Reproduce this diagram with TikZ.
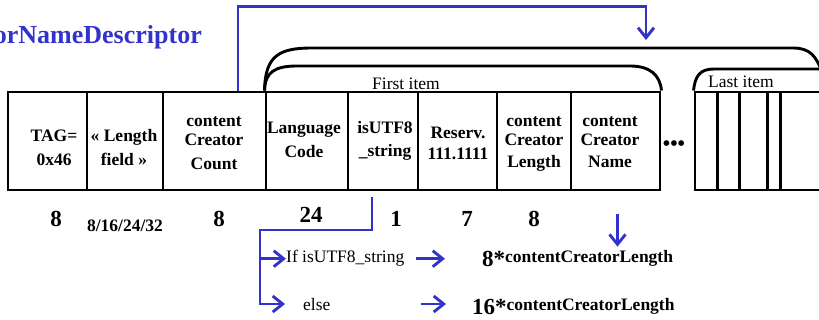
\documentclass[tikz,border=0pt]{standalone}
\usepackage{fontspec}
\setmainfont{Liberation Serif}
\usetikzlibrary{arrows.meta,calc}
\definecolor{blu}{RGB}{51,51,204}
\newcommand\mlines[1]{\begin{tabular}[t]{@{}c@{}}#1\end{tabular}}
\begin{document}
\begin{tikzpicture}[x=1pt,y=-1pt,
  cellbox/.style={draw,line width=2.9pt,minimum height=98pt,inner sep=0pt},
  celltext/.style={anchor=base,inner sep=0pt,font=\fontsize{17.5}{19}\selectfont\bfseries},
  bnum/.style={anchor=base,inner sep=0pt,font=\fontsize{23}{25}\selectfont\bfseries},
  plain/.style={inner sep=0pt,font=\fontsize{17.5}{19}\selectfont},
  bline/.style={line width=2.9pt},
  bluline/.style={draw=blu,line width=2.9pt},
  barrow/.style={bluline,-{Straight Barb[length=10pt,width=16pt]}},
  ]
\useasboundingbox (0,0) rectangle (819,320);
\clip (0,0) rectangle (819,320);

% title
\node[anchor=base east,inner sep=0pt,text=blu,font=\fontsize{26}{30}\selectfont\bfseries] (title) at (202,44) {orNameDescriptor};

% cells
\node[cellbox,minimum width=79pt]  (tag)   at (47.5,141) {};
\node[cellbox,minimum width=76pt]  (len)   at (125,141) {};
\node[cellbox,minimum width=103pt] (count) at (214.5,141) {};
\node[cellbox,minimum width=82pt]  (lang)  at (307,141) {};
\node[cellbox,minimum width=70pt]  (utf)   at (383,141) {};
\node[cellbox,minimum width=79pt]  (res)   at (457.5,141) {};
\node[cellbox,minimum width=74pt]  (clen)  at (534,141) {};
\node[cellbox,minimum width=89pt]  (cname) at (615.5,141) {};
\node[cellbox,minimum width=150pt] (last)  at (770,141) {};
\foreach \dx in {24,46,74,87}
  \draw[bline] ([xshift=\dx pt]last.north west) -- ([xshift=\dx pt]last.south west);

% cell texts
\node[celltext] (ttag)   at (54,142)  {\mlines{TAG=\\[5pt]0x46}};
\node[celltext] (tlen)   at (124,142) {\mlines{« Length\\[5pt]field »}};
\node[celltext] (tcount) at (214,127) {\mlines{content\\Creator\\[5pt]Count}};
\node[celltext] (tlang)  at (304,134) {\mlines{Language\\[5pt]Code}};
\node[celltext] (tutf)   at (385,134) {\mlines{isUTF8\\[4pt]\_string}};
\node[celltext] (tres)   at (458,139) {\mlines{Reserv.\\[2pt]111.1111}};
\node[celltext] (tclen)  at (534,127) {\mlines{content\\Creator\\[3pt]Length}};
\node[celltext] (tcname) at (610,127) {\mlines{content\\Creator\\[3pt]Name}};

\node[inner sep=0pt,font=\fontsize{21}{21}\selectfont\bfseries] (dots) at (674,146) {\textbullet\textbullet\textbullet};

% brackets
\draw[bline] (lang.north west) .. controls (265,55) and (280,48) .. (312,48)
  -- (793,48) .. controls (810,48) and (816,56) .. (822,72);
\draw[bline] (lang.north west) .. controls (265,72) and (275,66) .. (297,66)
  -- (630,66) .. controls (650,66) and (660,75) .. (cname.north east);
\draw[bline] (last.north west) .. controls (695,76) and (700,69) .. (714,69) -- (830,69);
\node[plain,anchor=base] (first) at (406,90) {First item};
\node[plain,anchor=base west] (lastlbl) at (708,88) {Last item};

% blue pointer to items
\coordinate (tip) at (646,40);
\draw[barrow] ([xshift=23.5pt]count.north) -- ++(0,-84) -| (tip);

% bottom numbers
\node[bnum] (n1) at (56,227) {8};
\node[anchor=base,inner sep=0pt,font=\fontsize{17.5}{19}\selectfont\bfseries] (n2) at (125,232) {8/16/24/32};
\node[bnum] (n3) at (219,227) {8};
\node[bnum] (n4) at (311,223) {24};
\node[bnum] (n5) at (396,227) {1};
\node[bnum] (n6) at (467,227) {7};
\node[bnum] (n7) at (534,227) {8};

% conditional
\node[plain,anchor=base west] (ifn) at (286,263) {If isUTF8\_string};
\node[plain,anchor=base west] (elsen) at (303,310) {else};
\node[inner sep=0pt,anchor=base west,font=\fontsize{17.5}{19}\selectfont\bfseries] (r1) at (482,263)
  {\raisebox{-4pt}{\fontsize{23}{25}\selectfont 8*}contentCreatorLength};
\node[inner sep=0pt,anchor=base west,font=\fontsize{17.5}{19}\selectfont\bfseries] (r2) at (472,310)
  {\raisebox{-4pt}{\fontsize{23}{25}\selectfont 16*}contentCreatorLength};

\coordinate (br) at (260,230);
\draw[barrow] ([xshift=-11pt,yshift=-6pt]utf.south) |- (br) |- ([xshift=-18pt]elsen.west);
\draw[barrow] (br |- ifn.west) -- (ifn.west);
\draw[barrow,shorten <=11pt,shorten >=37pt] (ifn.east) -- (ifn.east -| r1.west);
\draw[barrow,shorten <=90pt,shorten >=26pt] (elsen.east) -- (elsen.east -| r2.west);
\draw[barrow,shorten <=23pt,shorten >=4pt] ([xshift=2pt]cname.south) -- ([xshift=2pt]cname.south |- r1.north);
\end{tikzpicture}
\end{document}
